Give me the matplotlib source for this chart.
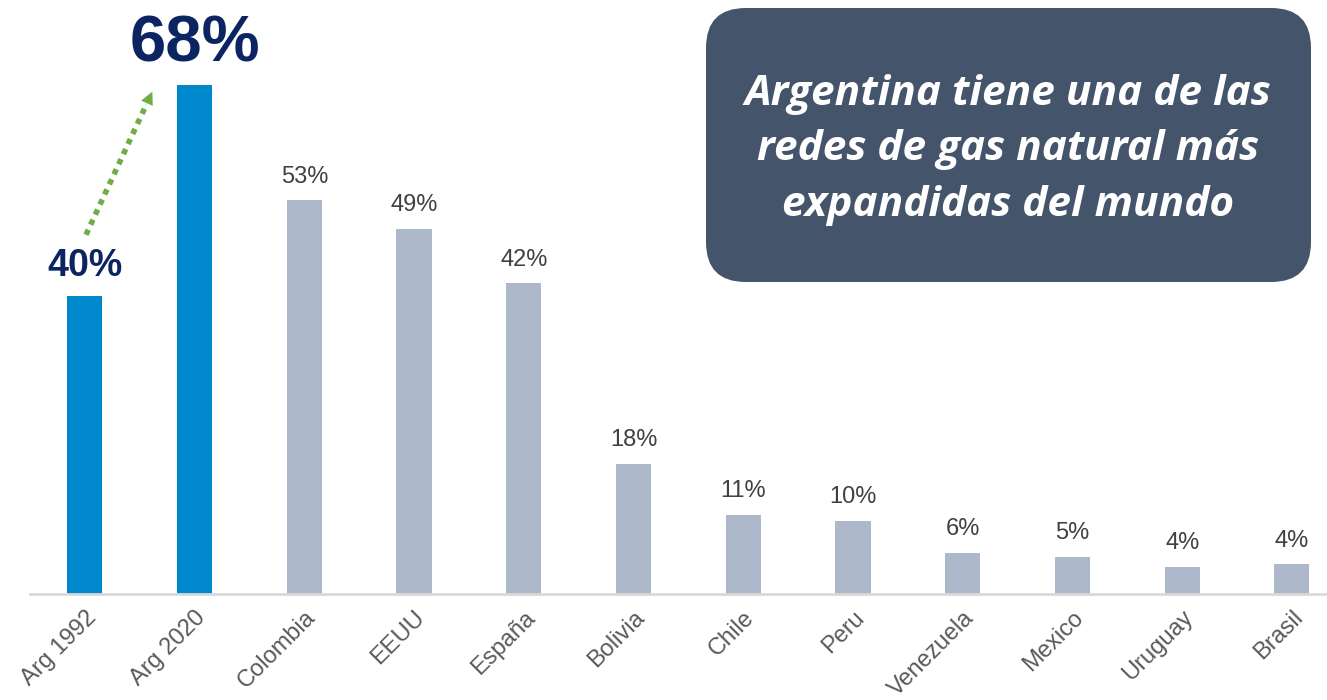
import matplotlib
matplotlib.use("Agg")
import matplotlib.pyplot as plt
from matplotlib.patches import FancyBboxPatch

plt.rcParams['font.family'] = ['Liberation Sans', 'DejaVu Sans']

# data
countries = ["Arg 1992", "Arg 2020", "Colombia", "EEUU", "España", "Bolivia",
             "Chile", "Peru", "Venezuela", "Mexico", "Uruguay", "Brasil"]
values = [40, 68.3, 52.8, 49.0, 41.7, 17.5, 10.6, 9.8, 5.5, 5.0, 3.6, 4.0]
labels = ["40%", "68%", "53%", "49%", "42%", "18%", "11%", "10%", "6%", "5%", "4%", "4%"]
box_text = "Argentina tiene una de las\nredes de gas natural más\nexpandidas del mundo"

arg_color = '#0088CC'
other_color = '#ADB9CA'
navy = '#0D2463'

fig = plt.figure(figsize=(13.27, 7.0), dpi=100)
ax = fig.add_axes([30 / 1327, 1 - 594 / 700, 1 - 30 / 1327, 594 / 700])

x = list(range(len(countries)))
colors = [arg_color if c.startswith("Arg") else other_color for c in countries]
ax.bar(x, values, width=0.32, color=colors, zorder=2)

ax.set_xlim(-0.5, 11.32)
ax.set_ylim(0, 79.7)

for s in ['top', 'right', 'left']:
    ax.spines[s].set_visible(False)
ax.spines['bottom'].set_color('#D9D9D9')
ax.spines['bottom'].set_linewidth(2)
ax.set_yticks([])
ax.set_xticks(x)
ax.set_xticklabels(countries, rotation=45, ha='right', rotation_mode='anchor',
                   fontsize=17, color='#595959')
ax.tick_params(axis='x', length=0, pad=9)

# value labels
for i, (v, lab) in enumerate(zip(values, labels)):
    if i == 0:
        ax.text(i, v + 1.6, lab, ha='center', va='bottom', fontsize=27,
                fontweight='bold', color=navy)
    elif i == 1:
        ax.text(i, v + 1.4, lab, ha='center', va='bottom', fontsize=47,
                fontweight='bold', color=navy)
    else:
        ax.text(i, v + 1.7, lab, ha='center', va='bottom', fontsize=17,
                color='#404040')

# green dotted arrow
x0, y0 = 0.01, values[0] + 8.2
x1, y1 = 0.615, values[1] - 0.9
ax.plot([x0, x0 + (x1 - x0) * 0.88], [y0, y0 + (y1 - y0) * 0.88],
        color='#70AD47', linestyle=(0, (1, 1)), linewidth=4, zorder=3)
ax.annotate("", xy=(x1, y1), xytext=(x0 + (x1 - x0) * 0.85, y0 + (y1 - y0) * 0.85),
            arrowprops=dict(arrowstyle='-|>,head_length=0.9,head_width=0.45',
                            color='#70AD47', lw=0.1, shrinkA=0, shrinkB=0))

# callout box
box = FancyBboxPatch((706 / 1327, 1 - 282 / 700), (1311 - 706) / 1327, (282 - 8) / 700,
                     boxstyle="round,pad=0,rounding_size=0.03",
                     transform=fig.transFigure, facecolor='#44546A', edgecolor='none',
                     mutation_aspect=1327 / 700)
fig.patches.append(box)
fig.text(1008 / 1327, 1 - 150 / 700, box_text, ha='center', va='center',
         fontsize=30.5, fontweight='bold', fontstyle='italic', color='white',
         family=['Open Sans', 'DejaVu Sans'], linespacing=1.47)

fig.savefig("out.png", dpi=100)
